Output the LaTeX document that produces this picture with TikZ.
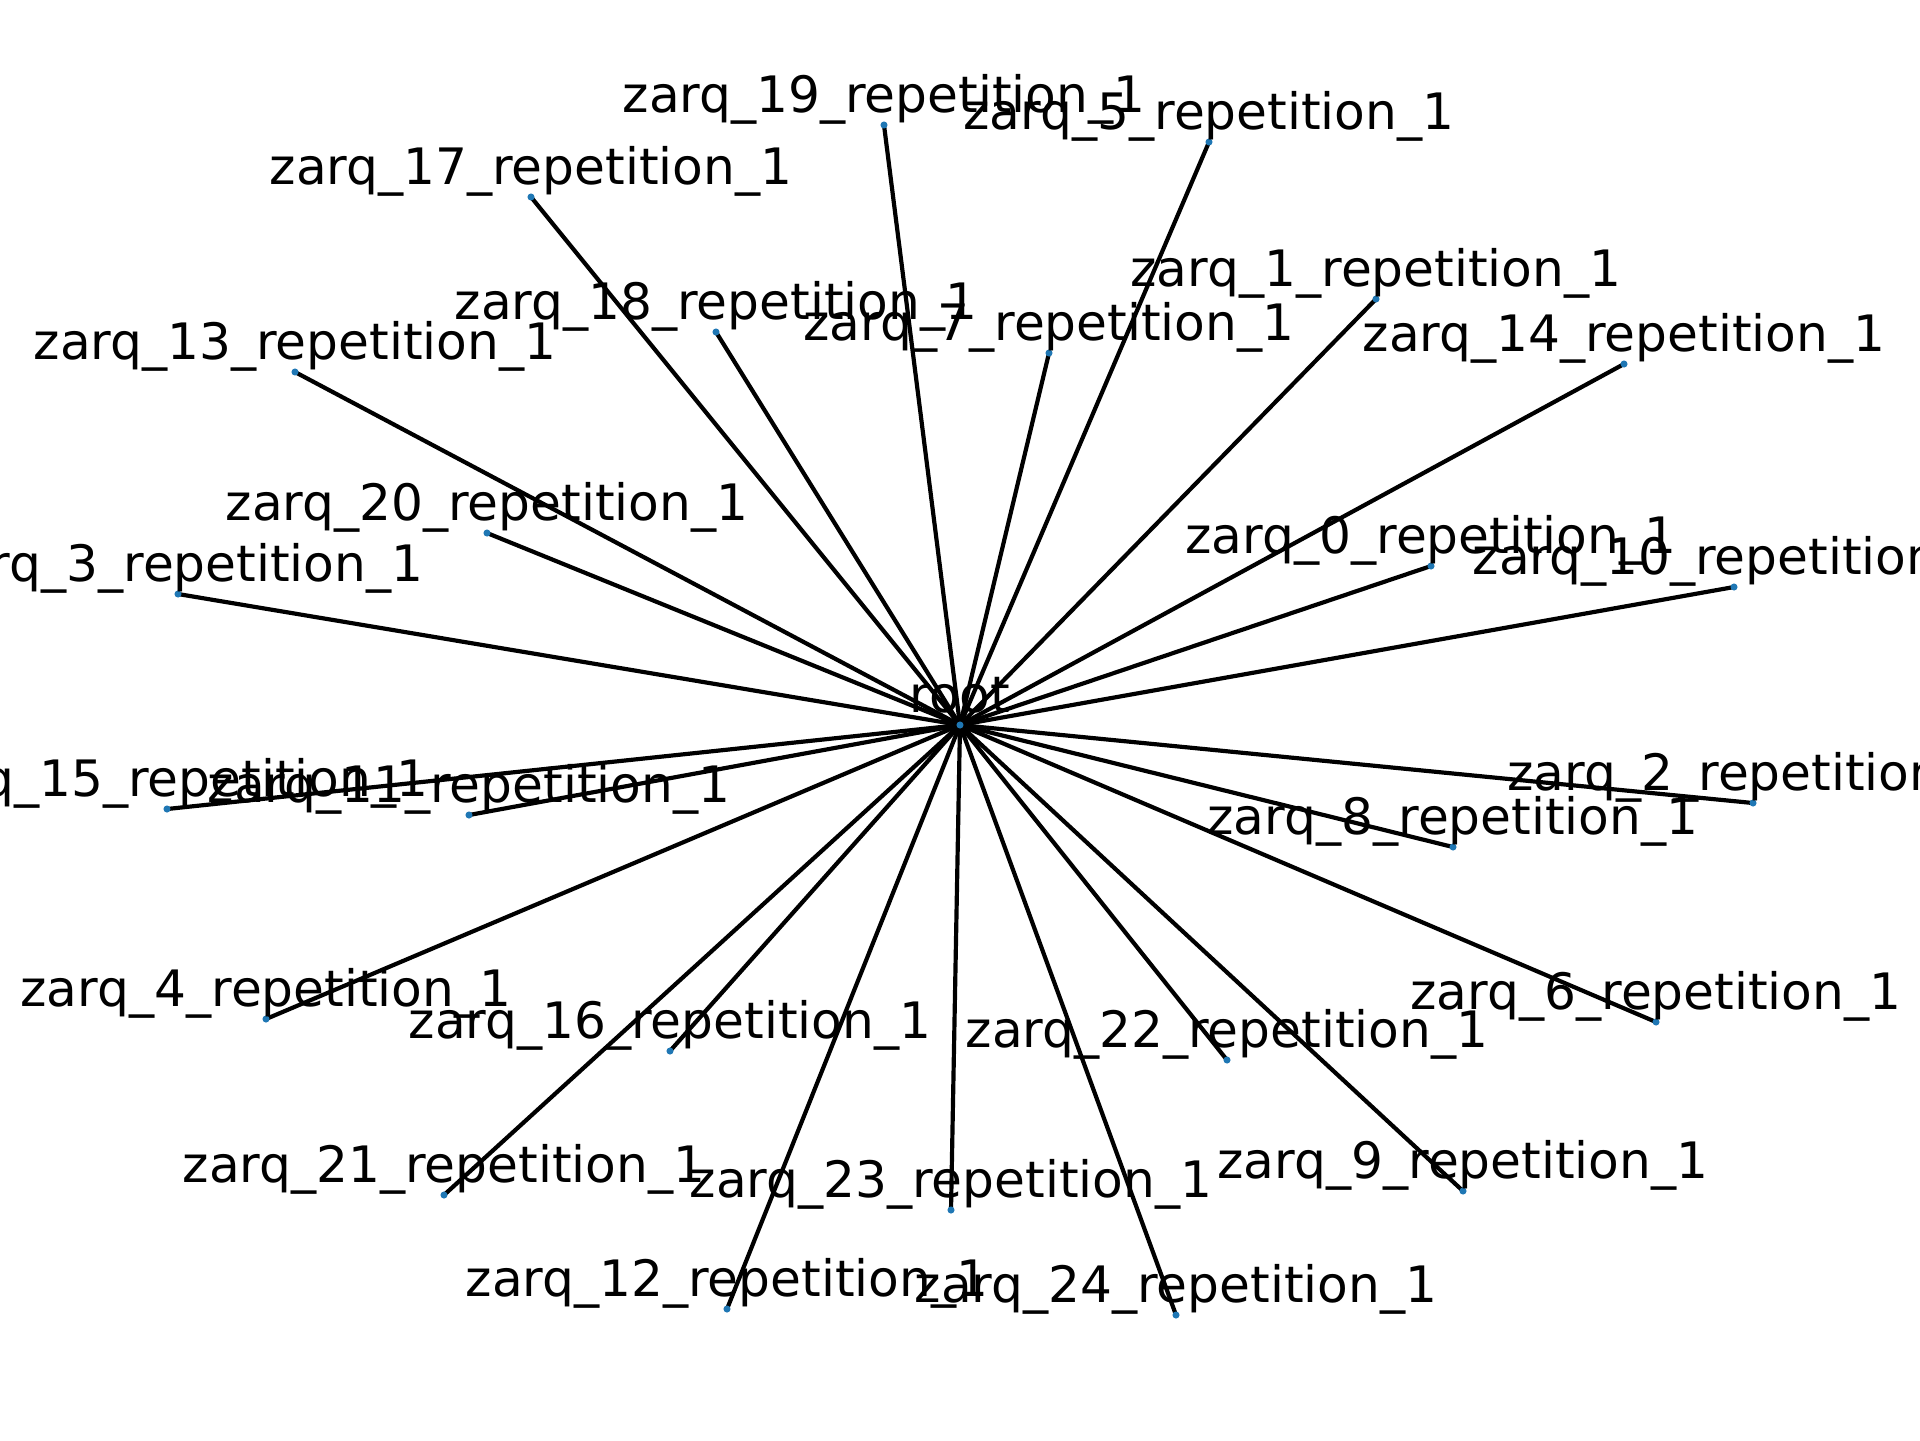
\documentclass[tikz,border=0pt]{standalone}
\usepackage{fontspec}
\setmainfont{DejaVu Sans}
\begin{document}
\begin{tikzpicture}[x=0.24pt,y=-0.24pt,
  edge/.style={line width=1bp,black},
  dot/.style={circle,fill=dotblue,draw=none,inner sep=0pt,minimum size=1.7pt},
  lbl/.style={anchor=base,inner sep=0pt,yshift=3.1pt,font=\fontsize{12bp}{14bp}\selectfont}]
\definecolor{dotblue}{HTML}{1F77B4}
\useasboundingbox (0,0) rectangle (1920,1440);
\clip (0,0) rectangle (1920,1440);
\coordinate (root) at (960,725);
\coordinate (n0) at (1431,566);
\coordinate (n1) at (1376,299);
\coordinate (n2) at (1753,803);
\coordinate (n3) at (178,594);
\coordinate (n4) at (266,1019);
\coordinate (n5) at (1209,142);
\coordinate (n6) at (1656,1022);
\coordinate (n7) at (1049,353);
\coordinate (n8) at (1453,847);
\coordinate (n9) at (1463,1191);
\coordinate (n10) at (1734,587);
\coordinate (n11) at (469,815);
\coordinate (n12) at (727,1309);
\coordinate (n13) at (295,372);
\coordinate (n14) at (1624,364);
\coordinate (n15) at (167,809);
\coordinate (n16) at (670,1051);
\coordinate (n17) at (531,197);
\coordinate (n18) at (716,332);
\coordinate (n19) at (884,125);
\coordinate (n20) at (487,533);
\coordinate (n21) at (444,1195);
\coordinate (n22) at (1227,1060);
\coordinate (n23) at (951,1210);
\coordinate (n24) at (1176,1315);
\foreach \i in {0,...,24} {\draw[edge] (root) -- (n\i);}
\node[dot] (droot) at (root) {};
\foreach \i in {0,...,24} {\node[dot] (d\i) at (n\i) {};}
\node[lbl] (lroot) at (root) {root};
\foreach \i in {0,...,24} {\node[lbl] (l\i) at (n\i) {zarq\_\i\_repetition\_1};}
\end{tikzpicture}
\end{document}
